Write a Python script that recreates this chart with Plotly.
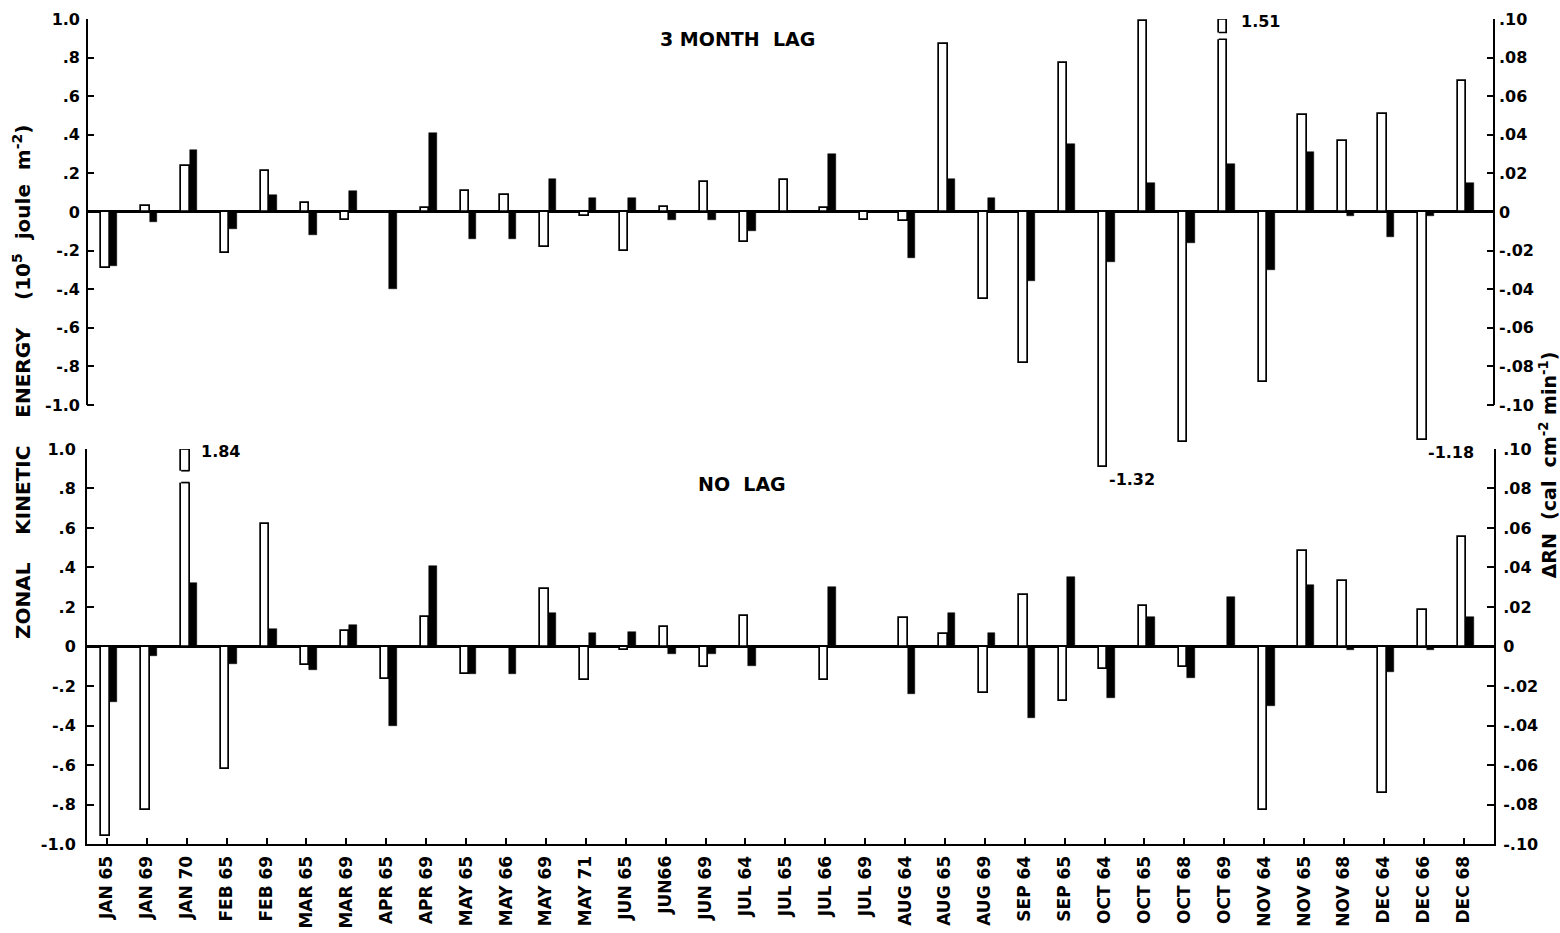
import plotly.graph_objects as go

# ---------------- data ----------------
categories = ["JAN 65", "JAN 69", "JAN 70", "FEB 65", "FEB 69", "MAR 65", "MAR 69",
              "APR 65", "APR 69", "MAY 65", "MAY 66", "MAY 69", "MAY 71", "JUN 65",
              "JUN66", "JUN 69", "JUL 64", "JUL 65", "JUL 66", "JUL 69", "AUG 64",
              "AUG 65", "AUG 69", "SEP 64", "SEP 65", "OCT 64", "OCT 65", "OCT 68",
              "OCT 69", "NOV 64", "NOV 65", "NOV 68", "DEC 64", "DEC 66", "DEC 68"]

# zonal kinetic energy (10^5 joule m^-2), 3 month lag (open bars, top panel)
ke_3month = [-0.29, 0.03, 0.24, -0.21, 0.21, 0.045, -0.04,
             0.0, 0.02, 0.11, 0.09, -0.18, -0.02, -0.20,
             0.025, 0.155, -0.155, 0.165, 0.02, -0.04, -0.045,
             0.87, -0.45, -0.78, 0.77, -1.32, 0.99, -1.19,
             1.51, -0.88, 0.50, 0.37, 0.51, -1.18, 0.68]

# zonal kinetic energy, no lag (open bars, bottom panel)
ke_nolag = [-0.96, -0.83, 1.84, -0.62, 0.62, -0.095, 0.08,
            -0.165, 0.15, -0.14, 0.0, 0.29, -0.17, -0.02,
            0.10, -0.105, 0.155, -0.01, -0.17, 0.0, 0.145,
            0.065, -0.235, 0.26, -0.275, -0.115, 0.205, -0.105,
            0.0, -0.83, 0.485, 0.33, -0.74, 0.185, 0.555]

# delta RN (cal cm^-2 min^-1) (filled bars, both panels)
drn = [-0.028, -0.005, 0.032, -0.009, 0.009, -0.012, 0.011,
       -0.040, 0.041, -0.014, -0.014, 0.017, 0.007, 0.0075,
       -0.004, -0.004, -0.010, 0.0, 0.030, 0.0, -0.024,
       0.017, 0.007, -0.036, 0.035, -0.026, 0.015, -0.016,
       0.025, -0.030, 0.031, -0.002, -0.013, -0.002, 0.015]

ke_ticks = [-1.0, -0.8, -0.6, -0.4, -0.2, 0.0, 0.2, 0.4, 0.6, 0.8, 1.0]
ke_ticktext = ["-1.0", "-.8", "-.6", "-.4", "-.2", "0", ".2", ".4", ".6", ".8", "1.0"]
rn_ticks = [-0.10, -0.08, -0.06, -0.04, -0.02, 0.0, 0.02, 0.04, 0.06, 0.08, 0.10]
rn_ticktext = ["-.10", "-.08", "-.06", "-.04", "-.02", "0", ".02", ".04", ".06", ".08", ".10"]

# bars whose values run off the scale and are labelled
labelled_top = ["OCT 69", "OCT 64", "DEC 66"]
labelled_bottom = ["JAN 70"]
# axis breaks drawn in the off-scale positive bars (lower, upper)
break_top = {"OCT 69": (0.895, 0.93)}
break_bottom = {"JAN 70": (0.83, 0.89)}

# ---------------- style ----------------
FONT = "DejaVu Sans"
W_OPEN, OFF_OPEN = 0.21, -0.14
W_FILL, OFF_FILL = 0.19, 0.07
XR = [-0.50, 34.76]
TOP_RANGE = [-1.37, 1.0]
BOT_RANGE = [-1.0, 1.0]

fig = go.Figure()

open_style = dict(color="white", line=dict(color="black", width=1.7))
fill_style = dict(color="black", line=dict(color="black", width=0.5))

fig.add_trace(go.Bar(x=categories, y=ke_3month, xaxis="x", yaxis="y",
                     marker=open_style, width=W_OPEN, offset=OFF_OPEN,
                     showlegend=False))
fig.add_trace(go.Bar(x=categories, y=drn, xaxis="x", yaxis="y2",
                     marker=fill_style, width=W_FILL, offset=OFF_FILL,
                     showlegend=False))
fig.add_trace(go.Bar(x=categories, y=ke_nolag, xaxis="x2", yaxis="y3",
                     marker=open_style, width=W_OPEN, offset=OFF_OPEN,
                     showlegend=False))
fig.add_trace(go.Bar(x=categories, y=drn, xaxis="x2", yaxis="y4",
                     marker=fill_style, width=W_FILL, offset=OFF_FILL,
                     showlegend=False))

tickfont = dict(family=FONT, size=16, color="black", weight="bold")
catfont = dict(family=FONT, size=17, color="black", weight="bold")
common_y = dict(tickvals=ke_ticks, ticktext=ke_ticktext, ticks="inside", ticklen=7,
                tickwidth=2, tickcolor="black", showgrid=False, tickfont=tickfont,
                zeroline=True, zerolinecolor="black", zerolinewidth=2.5,
                ticklabelstandoff=6, automargin=False)
common_r = dict(tickvals=rn_ticks, ticktext=rn_ticktext, ticks="inside", ticklen=7,
                tickwidth=2, tickcolor="black", showgrid=False, tickfont=tickfont,
                zeroline=False, side="right", ticklabelstandoff=4, automargin=False)

TOP_DOM = [0.4456, 1.0]
BOT_DOM = [0.0, 0.4788]

fig.update_layout(
    width=1560, height=933,
    margin=dict(l=87, r=66, t=19, b=89, autoexpand=False),
    paper_bgcolor="white", plot_bgcolor="rgba(0,0,0,0)",
    barmode="overlay", bargap=0,
    font=dict(family=FONT, color="black"),
    xaxis=dict(domain=[0, 1], range=XR, anchor="y", type="category",
               categoryarray=categories, showticklabels=False, ticks="",
               showline=False, showgrid=False, zeroline=False, automargin=False),
    yaxis=dict(domain=TOP_DOM, range=TOP_RANGE, anchor="x", showline=False, **common_y),
    yaxis2=dict(overlaying="y", anchor="x", range=[v / 10 for v in TOP_RANGE],
                showline=False, **common_r),
    xaxis2=dict(domain=[0, 1], range=XR, anchor="y3", type="category",
                categoryarray=categories, showline=True, linewidth=2, linecolor="black",
                ticks="inside", ticklen=6, tickwidth=2, tickcolor="black",
                tickangle=-90, tickfont=catfont, showgrid=False, zeroline=False,
                ticklabelstandoff=3, automargin=False),
    yaxis3=dict(domain=BOT_DOM, range=BOT_RANGE, anchor="x2", showline=True,
                linewidth=2, linecolor="black", **common_y),
    yaxis4=dict(overlaying="y3", anchor="x2", range=[v / 10 for v in BOT_RANGE],
                showline=True, linewidth=2, linecolor="black", **common_r),
)

shapes = []
# spines of the top panel, only between -1.0 and 1.0
for xd in (0, 1):
    shapes.append(dict(type="line", xref="x domain", yref="y", x0=xd, x1=xd,
                       y0=-1.0, y1=1.0, line=dict(color="black", width=2)))


def add_break(xref, yref, cat, lo, hi):
    i = categories.index(cat)
    x0 = i + OFF_OPEN
    x1 = x0 + W_OPEN
    shapes.append(dict(type="rect", xref=xref, yref=yref, x0=x0 - 0.06, x1=x1 + 0.02,
                       y0=lo, y1=hi, fillcolor="white", line=dict(width=0)))
    for yy in (lo, hi, 1.0):
        shapes.append(dict(type="line", xref=xref, yref=yref, x0=x0, x1=x1,
                           y0=yy, y1=yy, line=dict(color="black", width=1.7)))


for cat, (lo, hi) in break_top.items():
    add_break("x", "y", cat, lo, hi)
for cat, (lo, hi) in break_bottom.items():
    add_break("x2", "y3", cat, lo, hi)

annotations = []
lblfont = dict(family=FONT, size=16, color="black", weight="bold")


def add_label(xref, yref, cat, values, dx_pos):
    i = categories.index(cat)
    v = values[i]
    txt = f"{v:.2f}"
    if v > 0:
        annotations.append(dict(x=i + dx_pos, y=0.985, xref=xref, yref=yref, text=txt,
                                showarrow=False, xanchor="left", yanchor="middle",
                                font=lblfont))
    else:
        annotations.append(dict(x=i + OFF_OPEN + W_OPEN - 0.02, y=v, xref=xref, yref=yref,
                                text=txt, showarrow=False, xanchor="left", yanchor="top",
                                yshift=-1, font=lblfont))


for cat in labelled_top:
    add_label("x", "y", cat, ke_3month, 0.38)
for cat in labelled_bottom:
    add_label("x2", "y3", cat, ke_nolag, 0.30)

titlefont = dict(family=FONT, size=19, color="black", weight="bold")
annotations += [
    dict(x=0.462, y=0.976, xref="paper", yref="paper", text="3 MONTH  LAG",
         showarrow=False, xanchor="center", yanchor="middle", font=titlefont),
    dict(x=0.4655, y=0.436, xref="paper", yref="paper", text="NO  LAG",
         showarrow=False, xanchor="center", yanchor="middle", font=titlefont),
    dict(x=-0.0462, y=0.56, xref="paper", yref="paper", textangle=-90,
         xanchor="center", yanchor="middle",
         text="ZONAL    KINETIC    ENERGY    (10<sup>5</sup>  joule  m<sup>-2</sup>)",
         showarrow=False, font=dict(family=FONT, size=20, color="black", weight="bold")),
    dict(x=1.0384, y=0.459, xref="paper", yref="paper", textangle=-90,
         xanchor="center", yanchor="middle",
         text="\u0394RN  (cal  cm<sup>-2</sup> min<sup>-1</sup>)",
         showarrow=False, font=dict(family=FONT, size=19, color="black", weight="bold")),
]

fig.update_layout(shapes=shapes, annotations=annotations)

fig.write_html("out.html", config={"displayModeBar": False},
               post_script="document.body.style.margin='0';")
